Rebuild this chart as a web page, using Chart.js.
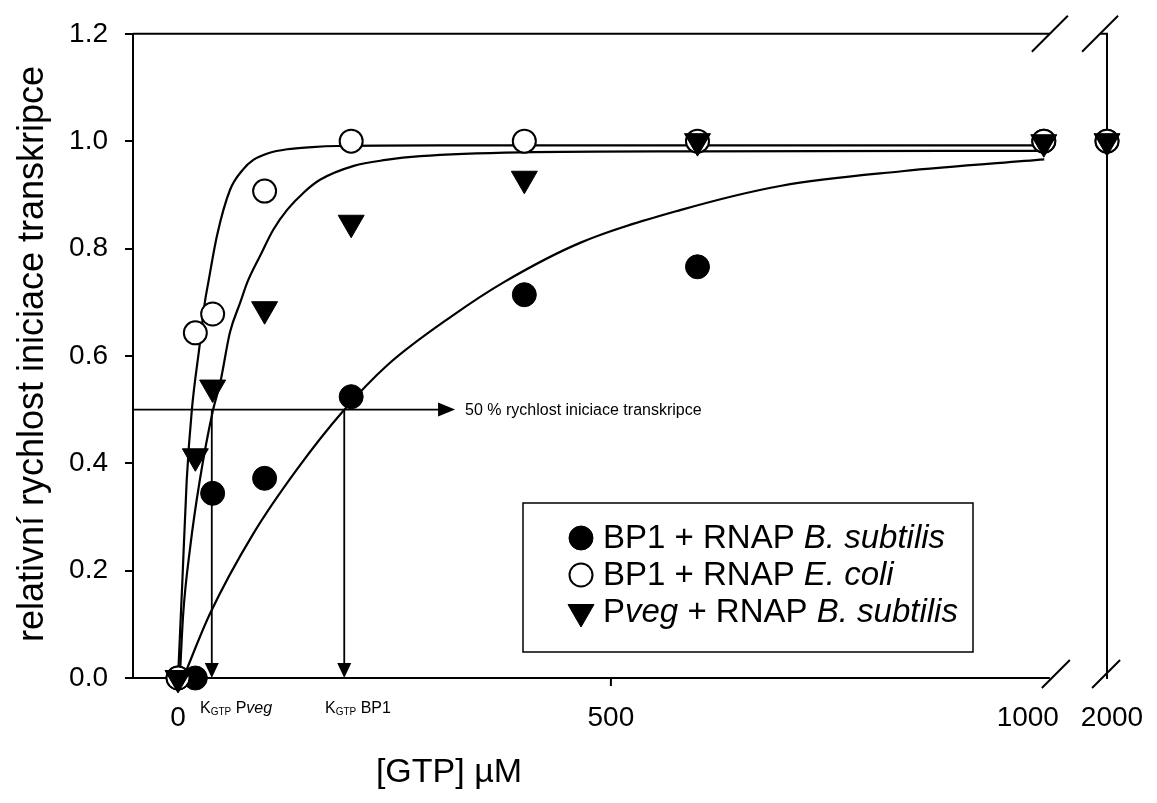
<!DOCTYPE html>
<html>
<head>
<meta charset="utf-8">
<script src="https://cdn.jsdelivr.net/npm/chart.js@4.4.1/dist/chart.umd.min.js"></script>
<style>
  html, body { margin: 0; padding: 0; background: #fff; }
  #wrap { width: 1157px; height: 803px; }
</style>
</head>
<body>
<div id="wrap"><canvas id="chart" width="1157" height="803"></canvas></div>
<script>
/* ------------------------------------------
 * DATA
 * ------------------------------------------ */
const gtp = [0, 20, 40, 100, 200, 400, 600, 1000, 2000];
const bp1Bsub = [0, 0, 0.344, 0.372, 0.524, 0.714, 0.766, 1.0, 1.0];
const bp1Ecoli = [0, 0.643, 0.678, 0.907, 1.0, 1.0, 1.0, 1.0, 1.0];
const pvegBsub = [0, 0.413, 0.541, 0.687, 0.848, 0.93, 1.0, 0.998, 1.0];

// fitted curves
const fitEcoliX = [0, 5, 10, 16, 25, 31, 35, 45, 60, 75, 87, 105, 126, 155, 184, 300, 600, 1007];
const fitEcoliY = [0, 0.18, 0.367, 0.5, 0.62, 0.7, 0.737, 0.824, 0.909, 0.947, 0.965, 0.978, 0.985, 0.989, 0.991, 0.992, 0.992, 0.992];
const fitPvegX = [2, 6, 14, 25, 40, 49, 60, 72, 80, 95, 110, 126, 145, 164, 203, 240, 280, 396, 600, 1007];
const fitPvegY = [0, 0.12, 0.243, 0.367, 0.496, 0.552, 0.644, 0.7, 0.737, 0.787, 0.835, 0.872, 0.904, 0.928, 0.954, 0.965, 0.972, 0.979, 0.981, 0.982];
const fitBsubX = [6, 37, 87, 138, 190, 242, 318, 376, 465, 581, 697, 836, 1007];
const fitBsubY = [0, 0.12, 0.269, 0.39, 0.496, 0.583, 0.676, 0.737, 0.811, 0.872, 0.917, 0.944, 0.966];

const xTicks = [0, 500, 1000, 2000];
const xTickLabels = ["0", "500", "1000", "2000"];

const kPveg = 39;   // K_GTP for Pveg
const kBp1 = 192;   // K_GTP for BP1
const halfRate = 0.5;

/* ------------------------------------------
 * AXIS BREAK: values above 1000 are squeezed
 * ------------------------------------------ */
const BREAK_AT = 1000;
const BREAK_GAP = [1007, 1065];
const pos = v => (v <= BREAK_AT ? v : BREAK_AT + (v - BREAK_AT) * 0.073);

const zip = (xs, ys) => xs.map((x, i) => ({ x: pos(x), y: ys[i] }));

const FONT = "'Liberation Sans', Arial, Helvetica, sans-serif";

/* ------------------------------------------
 * DRAW HELPERS
 * ------------------------------------------ */
const richText = (ctx, parts, x, y, size) => {
  let cx = x;
  parts.forEach(([txt, italic, sz, dy]) => {
    ctx.font = `${italic ? "italic " : ""}${sz || size}px ${FONT}`;
    ctx.fillText(txt, cx, y + (dy || 0));
    cx += ctx.measureText(txt).width;
  });
  return cx;
};

const arrowHead = (ctx, x, y, dir, len, half) => {
  ctx.beginPath();
  if (dir === "right") {
    ctx.moveTo(x, y); ctx.lineTo(x - len, y - half); ctx.lineTo(x - len, y + half);
  } else {
    ctx.moveTo(x, y); ctx.lineTo(x - half, y - len); ctx.lineTo(x + half, y - len);
  }
  ctx.closePath();
  ctx.fill();
};

const marker = (ctx, style, x, y) => {
  ctx.save();
  ctx.fillStyle = style.bg;
  ctx.strokeStyle = "#000";
  ctx.lineWidth = style.bw;
  Chart.helpers.drawPoint(ctx, { pointStyle: style.ps, radius: style.r, rotation: style.rot, borderWidth: style.bw }, x, y);
  ctx.restore();
};

const styles = {
  bsub: { ps: "circle", r: 12, rot: 0, bw: 1, bg: "#000" },
  ecoli: { ps: "circle", r: 11.5, rot: 0, bw: 2, bg: "#fff" },
  pveg: { ps: "triangle", r: 15, rot: 180, bw: 1, bg: "#000" }
};

/* ------------------------------------------
 * PLUGIN: frame, breaks, arrows, texts
 * ------------------------------------------ */
const framePlugin = {
  id: "frame",
  beforeDatasetsDraw(chart) {
    const { ctx, chartArea: a, scales: { x, y } } = chart;
    const bl = x.getPixelForValue(BREAK_GAP[0]);
    const br = x.getPixelForValue(BREAK_GAP[1]);
    ctx.save();
    ctx.strokeStyle = "#000";
    ctx.fillStyle = "#000";
    ctx.lineWidth = 2;

    // frame lines with the gap
    ctx.beginPath();
    ctx.moveTo(a.left, a.top); ctx.lineTo(bl, a.top);
    ctx.moveTo(a.left - 8, a.bottom); ctx.lineTo(bl, a.bottom);
    ctx.moveTo(br, a.top); ctx.lineTo(a.right, a.top); ctx.lineTo(a.right, a.bottom); ctx.lineTo(br + 6, a.bottom);
    ctx.stroke();

    // break slashes
    ctx.beginPath();
    [bl, br].forEach(px => {
      ctx.moveTo(px - 18, a.top + 18); ctx.lineTo(px + 18, a.top - 18);
      ctx.moveTo(px - 8, a.bottom + 10); ctx.lineTo(px + 20, a.bottom - 18);
    });
    ctx.stroke();

    // x tick mark at 500
    const p500 = x.getPixelForValue(500);
    ctx.beginPath();
    ctx.moveTo(p500, a.bottom); ctx.lineTo(p500, a.bottom + 8);
    ctx.stroke();

    // 50 % line and K_GTP arrows
    const yHalf = y.getPixelForValue(halfRate);
    const tipX = x.getPixelForValue(320);
    ctx.lineWidth = 1.8;
    ctx.beginPath();
    ctx.moveTo(a.left, yHalf); ctx.lineTo(tipX - 14, yHalf);
    [kPveg, kBp1].forEach(k => {
      const px = x.getPixelForValue(k);
      ctx.moveTo(px, yHalf); ctx.lineTo(px, a.bottom - 12);
    });
    ctx.stroke();
    arrowHead(ctx, tipX, yHalf, "right", 17, 7);
    [kPveg, kBp1].forEach(k => arrowHead(ctx, x.getPixelForValue(k), a.bottom, "down", 15, 7));

    ctx.textBaseline = "middle";
    ctx.textAlign = "left";
    ctx.font = `16px ${FONT}`;
    ctx.fillText("50 % rychlost iniciace transkripce", tipX + 10, yHalf + 1);
    ctx.restore();
  },
  afterDraw(chart) {
    const { ctx, chartArea: a, scales: { x } } = chart;
    ctx.save();
    ctx.fillStyle = "#000";
    ctx.textBaseline = "middle";

    // x tick labels (1000 / 2000 sit a little off their ticks, as in the original)
    ctx.font = `28px ${FONT}`;
    ctx.textAlign = "center";
    const nudge = { 1000: -16, 2000: 5 };
    xTicks.forEach((v, i) => {
      ctx.fillText(xTickLabels[i], x.getPixelForValue(pos(v)) + (nudge[v] || 0), a.bottom + 40);
    });

    // K_GTP labels under the axis
    ctx.textAlign = "left";
    ctx.textBaseline = "alphabetic";
    richText(ctx, [["K", false], ["GTP", false, 10, 2], [" P", false], ["veg", true]], 200, a.bottom + 35, 16);
    richText(ctx, [["K", false], ["GTP", false, 10, 2], [" BP1", false]], 325, a.bottom + 35, 16);

    // axis titles
    ctx.textBaseline = "middle";
    ctx.textAlign = "center";
    ctx.font = `34px ${FONT}`;
    ctx.fillText("[GTP] \u00b5M", 449, 773);
    ctx.save();
    ctx.translate(33, 354);
    ctx.rotate(-Math.PI / 2);
    ctx.font = `36px ${FONT}`;
    ctx.fillText("relativní rychlost iniciace transkripce", 0, 0);
    ctx.restore();

    // legend
    const lx = 523, ly = 503, lw = 450, lh = 149;
    ctx.lineWidth = 1.5;
    ctx.strokeStyle = "#000";
    ctx.strokeRect(lx, ly, lw, lh);
    const rows = [
      [styles.bsub, [["BP1 + RNAP ", false], ["B. subtilis", true]]],
      [styles.ecoli, [["BP1 + RNAP ", false], ["E. coli", true]]],
      [styles.pveg, [["P", false], ["veg", true], [" + RNAP ", false], ["B. subtilis", true]]]
    ];
    ctx.textAlign = "left";
    rows.forEach(([st, parts], i) => {
      const ry = ly + 35 + i * 37;
      marker(ctx, st, lx + 58, ry);
      ctx.fillStyle = "#000";
      richText(ctx, parts, lx + 80, ry + 1, 33);
    });
    ctx.restore();
  }
};

/* ------------------------------------------
 * CHART
 * ------------------------------------------ */
const curve = (xs, ys) => ({
  data: zip(xs, ys),
  showLine: true,
  borderColor: "#000",
  borderWidth: 2.2,
  pointRadius: 0,
  cubicInterpolationMode: "monotone",
  order: 3
});

const points = (ys, st, order) => ({
  data: zip(gtp, ys),
  showLine: false,
  pointStyle: st.ps,
  pointRadius: st.r,
  rotation: st.rot,
  pointBorderWidth: st.bw,
  pointBackgroundColor: st.bg,
  pointBorderColor: "#000",
  clip: false,
  order
});

new Chart(document.getElementById("chart"), {
  type: "scatter",
  data: {
    datasets: [
      curve(fitEcoliX, fitEcoliY),
      curve(fitPvegX, fitPvegY),
      curve(fitBsubX, fitBsubY),
      points(bp1Bsub, styles.bsub, 2),
      points(bp1Ecoli, styles.ecoli, 1),
      points(pvegBsub, styles.pveg, 0)
    ]
  },
  options: {
    responsive: false,
    animation: false,
    events: [],
    layout: { padding: { top: 30, right: 50, left: 0, bottom: 0 } },
    plugins: { legend: { display: false }, tooltip: { enabled: false } },
    scales: {
      x: {
        type: "linear",
        min: -52,
        max: pos(2000),
        ticks: { display: false },
        grid: { display: false },
        border: { display: false },
        afterFit: s => { s.height = 125; }
      },
      y: {
        min: 0,
        max: 1.2,
        ticks: {
          stepSize: 0.2,
          padding: 17,
          color: "#000",
          font: { size: 28, family: FONT },
          callback: v => v.toFixed(1)
        },
        grid: { drawOnChartArea: false, drawTicks: true, tickLength: 8, color: "#000", lineWidth: 2 },
        border: { display: true, color: "#000", width: 2 },
        afterFit: s => { s.width = 133; }
      }
    }
  },
  plugins: [framePlugin]
});
</script>
</body>
</html>
